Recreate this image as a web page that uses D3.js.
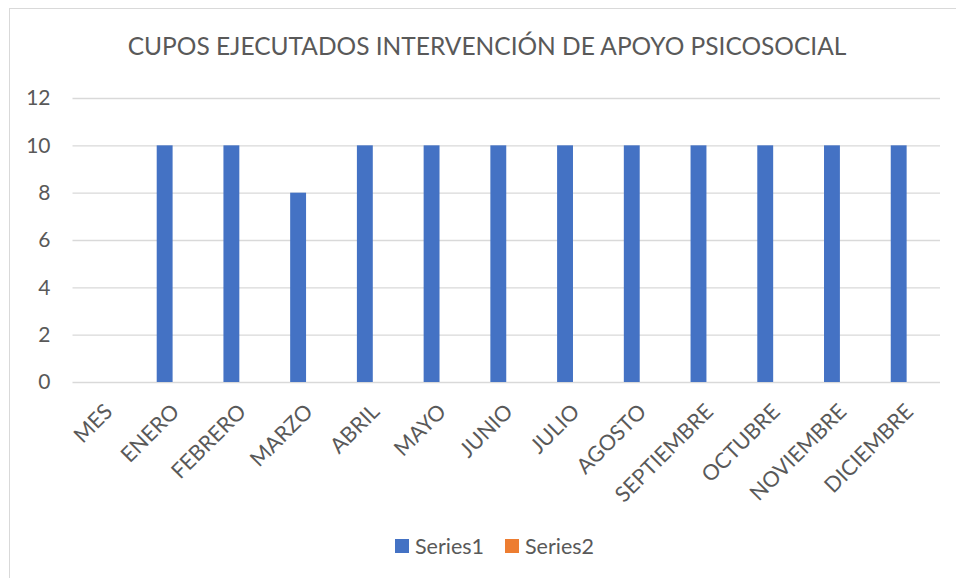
<!DOCTYPE html>
<html>
<head>
<meta charset="utf-8">
<script src="https://cdn.jsdelivr.net/npm/d3@7"></script>
<style>
  html, body { margin: 0; padding: 0; background: #fff; }
  svg { display: block; }
  text { font-family: Lato, "Open Sans", sans-serif; fill: #595959; }
</style>
</head>
<body>
<svg id="chart" width="956" height="578"></svg>
<script>
const title = "CUPOS EJECUTADOS INTERVENCIÓN DE APOYO PSICOSOCIAL";
const categories = ["MES", "ENERO", "FEBRERO", "MARZO", "ABRIL", "MAYO", "JUNIO", "JULIO", "AGOSTO", "SEPTIEMBRE", "OCTUBRE", "NOVIEMBRE", "DICIEMBRE"];
const seriesNames = ["Series1", "Series2"];
const series1 = [null, 10, 10, 8, 10, 10, 10, 10, 10, 10, 10, 10, 10];
const series2 = [null, null, null, null, null, null, null, null, null, null, null, null, null];
const yTicks = [0, 2, 4, 6, 8, 10, 12];
const colors = ["#4472C4", "#ED7D31"];

const svg = d3.select("#chart");
const W = 956, H = 578;
const plot = { left: 72.5, right: 940, top: 98, bottom: 382 };
const FONT = "Lato, 'Open Sans', sans-serif";

// chart border
svg.append("rect")
  .attr("x", 9.5).attr("y", 8.5)
  .attr("width", W).attr("height", H)
  .attr("fill", "#fff").attr("stroke", "#d9d9d9").attr("stroke-width", 1);

// title
svg.append("text")
  .attr("x", 487).attr("y", 55)
  .attr("text-anchor", "middle")
  .attr("font-size", 24.5)
  .text(title);

const x0 = d3.scaleBand().domain(categories).range([plot.left, plot.right]).paddingInner(0).paddingOuter(0);
const x1 = d3.scaleBand().domain(seriesNames).range([0, x0.bandwidth()]).paddingInner(0).paddingOuter(1.1);
const y = d3.scaleLinear().domain([0, 12]).range([plot.bottom, plot.top]);

// gridlines
const yAxis = d3.axisLeft(y).tickValues(yTicks).tickSize(-(plot.right - plot.left)).tickPadding(22).tickFormat(d3.format("d"));
const gy = svg.append("g").attr("transform", `translate(${plot.left},0)`).call(yAxis);
gy.select(".domain").remove();
gy.selectAll(".tick line").attr("stroke", "#d9d9d9").attr("stroke-width", 1.3);
gy.selectAll(".tick text").attr("font-size", 21).attr("fill", "#595959").attr("font-family", FONT);

// bars
const data = categories.map((c, i) => ({ cat: c, vals: [series1[i], series2[i]] }));
const groups = svg.append("g").selectAll("g").data(data).join("g")
  .attr("transform", d => `translate(${x0(d.cat)},0)`);
groups.selectAll("rect")
  .data(d => d.vals.map((v, j) => ({ name: seriesNames[j], v, j })).filter(e => e.v != null))
  .join("rect")
  .attr("x", e => x1(e.name))
  .attr("width", x1.bandwidth())
  .attr("y", e => y(e.v))
  .attr("height", e => y(0) - y(e.v))
  .attr("fill", e => colors[e.j]);

// x axis labels
const xAxis = d3.axisBottom(x0).tickSize(0).tickPadding(0);
const gx = svg.append("g").attr("transform", `translate(0,${plot.bottom})`).call(xAxis);
gx.select(".domain").remove();
gx.selectAll(".tick text")
  .attr("font-size", 21.5)
  .attr("fill", "#595959")
  .attr("font-family", FONT)
  .attr("text-anchor", "end")
  .attr("dy", null)
  .attr("y", 0)
  .attr("transform", "translate(8,31) rotate(-45)");

// legend
const legendX = [395, 505];
const lg = svg.append("g").selectAll("g").data(seriesNames).join("g")
  .attr("transform", (d, i) => `translate(${legendX[i]},539)`);
lg.append("rect").attr("width", 14).attr("height", 14).attr("fill", (d, i) => colors[i]);
lg.append("text").attr("x", 20).attr("y", 14.5).attr("font-size", 21.5).text(d => d);
</script>
</body>
</html>
